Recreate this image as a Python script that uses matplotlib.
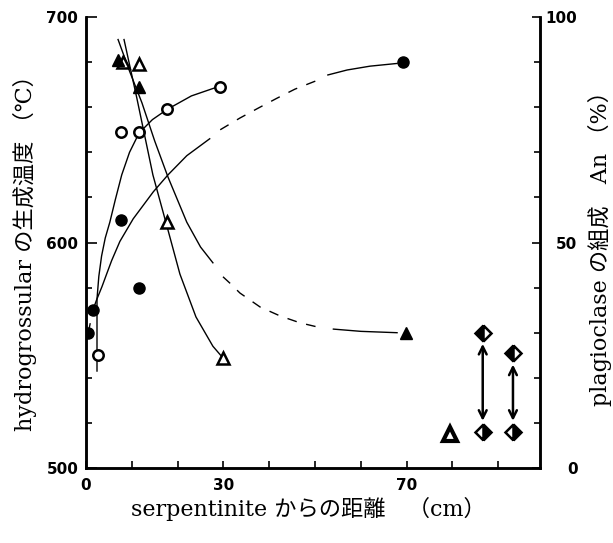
import matplotlib
matplotlib.use("Agg")
import matplotlib.pyplot as plt
from matplotlib.ticker import MultipleLocator

# hydrogrossular formation temperature (left axis, deg C)
dist_filled_circle = [0.5, 1.5, 7.6, 11.6, 69.2]
temp_filled_circle = [560, 570, 610, 580, 680]
dist_open_circle = [2.6, 7.6, 11.6, 17.7, 29.3]
temp_open_circle = [550, 649, 649, 659, 669]

# plagioclase An content (right axis, %)
dist_filled_tri = [7.0, 11.6, 69.8]
an_filled_tri = [90.5, 84.5, 30.0]
dist_open_tri = [8.0, 11.6, 17.7, 29.9]
an_open_tri = [90.0, 89.5, 54.5, 24.4]
dist_thick_tri = [79.5]
an_thick_tri = [7.5]
dist_diamond = [86.6, 93.2]
an_diamond_high = [30.0, 25.4]
an_diamond_low = [8.0, 8.0]

# hand drawn trend curves
oc_curve_x = [2.4, 2.4, 2.8, 3.4, 4.2, 5.2, 6.4, 7.8, 9.5, 11.6, 14.5, 17.7, 23.0, 29.3]
oc_curve_t = [543, 575, 585, 594, 602, 609, 619, 630, 640, 648.6, 654.5, 659, 665, 669.4]

fc_dash1_x = [0.5, 1.5]
fc_dash1_t = [560, 570]
fc_solid1_x = [1.5, 2.3, 3.5, 4.5, 5.6, 7.4, 10.3, 14.7, 17.9, 22.0, 27.0]
fc_solid1_t = [570, 574.5, 580.5, 586, 592, 600.5, 610.5, 622.5, 630, 638.5, 646]
fc_dash2_x = [29.3, 33.6, 37.6, 41.7, 45.6, 49.6, 51.0]
fc_dash2_t = [650, 655.2, 659.6, 664, 668, 671.2, 672.3]
fc_solid2_x = [52.8, 57.0, 62.0, 67.9]
fc_solid2_t = [674.3, 676.5, 678.2, 679.4]

ft_solid1_x = [7.0, 9.5, 12.2, 15.0, 17.9, 22.0, 25.0, 27.7]
ft_solid1_an = [95, 88, 81, 72.5, 64.5, 54.5, 49.0, 45.5]
ft_dash_x = [29.9, 31.4, 33.6, 38.0, 42.4, 46.7, 50.4]
ft_dash_an = [42.4, 41.0, 38.8, 35.7, 33.7, 32.2, 31.3]
ft_solid2_x = [54.0, 60.0, 67.9]
ft_solid2_an = [30.8, 30.3, 30.0]

ot_curve_x = [8.3, 11.1, 14.6, 17.7, 20.5, 24.0, 27.7, 29.9]
ot_curve_an = [95, 82, 65, 53.5, 43, 33.5, 27, 24.4]

label_font = ["DejaVu Serif", "Noto Sans CJK JP"]
tick_font = "DejaVu Sans"
dash = (0, (7, 7))

fig = plt.figure(figsize=(6.13, 5.43), dpi=100)
ax = fig.add_axes([0.1403, 0.1381, 0.7406, 0.8306])
ax2 = ax.twinx()

# temperature curves and points
ax.plot(oc_curve_x, oc_curve_t, color="black", lw=1.0)
ax.plot(fc_dash1_x, fc_dash1_t, color="black", lw=1.0, linestyle=dash)
ax.plot(fc_solid1_x, fc_solid1_t, color="black", lw=1.0)
ax.plot(fc_dash2_x, fc_dash2_t, color="black", lw=1.0, linestyle=dash)
ax.plot(fc_solid2_x, fc_solid2_t, color="black", lw=1.0)
ax.plot(dist_filled_circle, temp_filled_circle, "o", color="black", ms=8, zorder=5)
ax.plot(dist_open_circle, temp_open_circle, "o", mfc="white", mec="black",
        mew=1.8, ms=7.5, zorder=5)

# An curves and points
ax2.plot(ft_solid1_x, ft_solid1_an, color="black", lw=1.0)
ax2.plot(ft_dash_x, ft_dash_an, color="black", lw=1.0, linestyle=dash)
ax2.plot(ft_solid2_x, ft_solid2_an, color="black", lw=1.0)
ax2.plot(ot_curve_x, ot_curve_an, color="black", lw=1.0)
ax2.plot(dist_open_tri, an_open_tri, "^", mfc="white", mec="black",
         mew=1.8, ms=8, zorder=5)
ax2.plot(dist_filled_tri, an_filled_tri, "^", color="black", ms=9, zorder=6)
ax2.plot(dist_thick_tri, an_thick_tri, "^", mfc="white", mec="black",
         mew=3.0, ms=10, zorder=5)
ax2.plot(dist_diamond, an_diamond_high, "D", fillstyle="left", mfc="black",
         mfcalt="white", mec="black", mew=1.8, ms=8, zorder=5)
ax2.plot(dist_diamond, an_diamond_low, "D", fillstyle="right", mfc="black",
         mfcalt="white", mec="black", mew=1.8, ms=8, zorder=5)
for x, hi, lo in zip(dist_diamond, an_diamond_high, an_diamond_low):
    ax2.annotate("", xy=(x, hi), xytext=(x, lo),
                 arrowprops=dict(arrowstyle="<->", lw=1.8, color="black",
                                 shrinkA=8, shrinkB=8, mutation_scale=14))

# axes
ax.set_xlim(0, 99.1)
ax.set_ylim(500, 700)
ax2.set_ylim(0, 100)

for a in (ax, ax2):
    a.spines["top"].set_visible(False)
    for s in ("left", "right", "bottom"):
        a.spines[s].set_linewidth(1.8)

ax.set_xticks([0, 30, 70], labels=["0", "30", "70"], fontweight="bold",
              fontsize=11, fontfamily=tick_font)
ax.xaxis.set_minor_locator(MultipleLocator(10))
ax.set_yticks([500, 600, 700], labels=["500", "600", "700"], fontweight="bold",
              fontsize=11, fontfamily=tick_font)
ax.yaxis.set_minor_locator(MultipleLocator(20))
ax2.set_yticks([0, 50, 100], labels=["0", "50", "100"], fontweight="bold",
               fontsize=11, fontfamily=tick_font, ha="right")
ax2.yaxis.set_minor_locator(MultipleLocator(10))

ax.tick_params(axis="x", which="both", direction="in", length=5, width=1.2, pad=7)
ax.tick_params(axis="y", which="major", direction="in", length=8, width=1.2, pad=5.5)
ax.tick_params(axis="y", which="minor", direction="in", length=4, width=1.2)
ax2.tick_params(axis="y", which="major", direction="in", length=6, width=1.2, pad=27)
ax2.tick_params(axis="y", which="minor", direction="in", length=4, width=1.2)

fig.text(0.040, 0.545, "hydrogrossular の生成温度 （℃）", rotation=90,
         ha="center", va="center", fontsize=16, family=label_font)
fig.text(0.979, 0.552, "plagioclase の組成　An （%）", rotation=90,
         ha="center", va="center", fontsize=16, family=label_font)
fig.text(0.503, 0.063, "serpentinite からの距離　（cm）",
         ha="center", va="center", fontsize=16, family=label_font)

fig.savefig("out.png", dpi=100)
